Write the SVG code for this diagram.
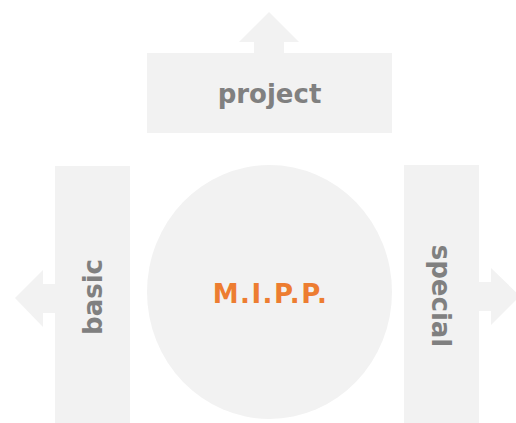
<svg xmlns="http://www.w3.org/2000/svg" width="516" height="423" viewBox="0 0 516 423">
<style>
.shape{fill:#F2F2F2;}
.lbl{font-family:"DejaVu Sans",Verdana,sans-serif;font-weight:bold;font-size:26px;fill:#808080;text-anchor:middle;}
.core{font-family:"DejaVu Sans",Verdana,sans-serif;font-weight:bold;font-size:26px;fill:#ED7D31;text-anchor:middle;letter-spacing:1.5px;}
</style>
<rect width="516" height="423" fill="#FFFFFF"/>
<g id="connectors">
<polygon class="shape" points="254,54 254,42 239,42 269,12 299,42 284,42 284,54"/>
<polygon class="shape" points="56,284 43,284 43,270 15,298 43,327 43,313 56,313"/>
<polygon class="shape" points="478,282 491,282 491,268 520,296 491,325 491,311 478,311"/>
</g>
<g id="project">
<rect class="shape" x="147" y="53" width="245" height="80"/>
<text class="lbl" x="269.5" y="103">project</text>
</g>
<g id="basic">
<rect class="shape" x="55" y="166" width="75" height="257"/>
<text class="lbl" transform="translate(102,297) rotate(-90)" x="0" y="0">basic</text>
</g>
<g id="special">
<rect class="shape" x="404" y="165" width="75" height="258"/>
<text class="lbl" transform="translate(432,296) rotate(90)" x="0" y="0">special</text>
</g>
<g id="mipp">
<ellipse class="shape" cx="269.5" cy="292" rx="122.5" ry="127"/>
<text class="core" x="270.5" y="303">M.I.P.P.</text>
</g>
</svg>
